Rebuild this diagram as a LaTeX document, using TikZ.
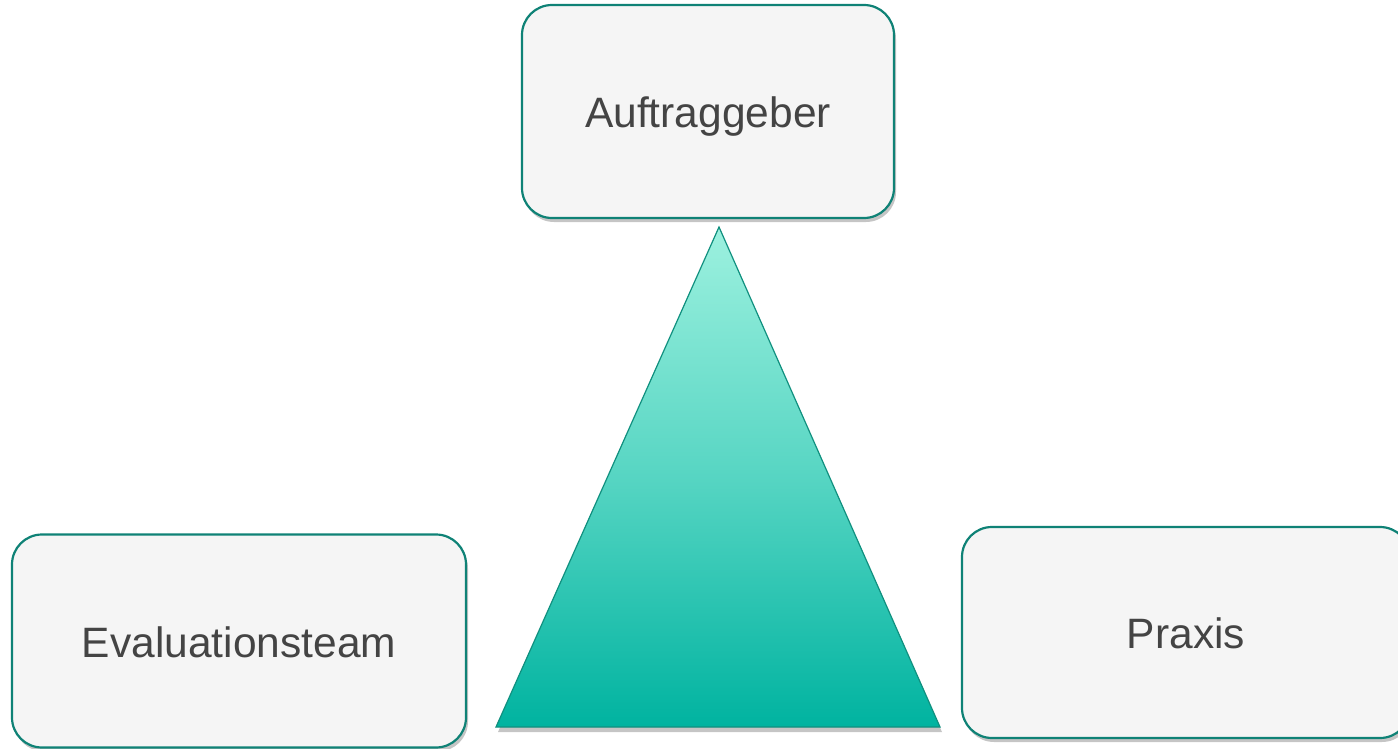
\documentclass[tikz,border=0pt]{standalone}
\usepackage{fontspec}
\setmainfont{Liberation Sans}
\usetikzlibrary{shadows}
\definecolor{boxfill}{HTML}{F5F5F5}
\definecolor{boxline}{HTML}{0F8276}
\definecolor{txt}{HTML}{444444}
\definecolor{tritop}{HTML}{9DF1DF}
\definecolor{tribot}{HTML}{00B3A0}
\definecolor{triline}{HTML}{10907F}
\tikzset{
  rolebox/.style={draw=boxline, line width=2.2pt, fill=boxfill, rounded corners=30pt,
    drop shadow={shadow xshift=2pt, shadow yshift=-4pt, fill=black!45, opacity=0.5},
    text=txt, font=\fontsize{42.5}{50}\selectfont, inner sep=0pt,
    text height=32pt, text depth=0pt},
}
\begin{document}
\begin{tikzpicture}[x=1pt,y=-1pt]
\useasboundingbox (0,0) rectangle (1398,749);
\clip (0,0) rectangle (1398,749);
% triangle
\path[drop shadow={shadow xshift=2pt, shadow yshift=-5pt, fill=black!45, opacity=0.5},
  top color=tritop, bottom color=tribot, middle color=tritop!55!tribot, draw=triline, line width=1.2pt]
  (719,227) -- (940,727) -- (496,727) -- cycle;
% boxes
\node[rolebox, minimum width=372pt, minimum height=213pt] (auf) at (708,111.5) {Auftraggeber};
\node[rolebox, minimum width=454pt, minimum height=213pt] (eval) at (239,641) {Evaluationsteam};
\node[rolebox, minimum width=448pt, minimum height=211pt] (praxis) at (1186,632.5) {Praxis};
\end{tikzpicture}
\end{document}
